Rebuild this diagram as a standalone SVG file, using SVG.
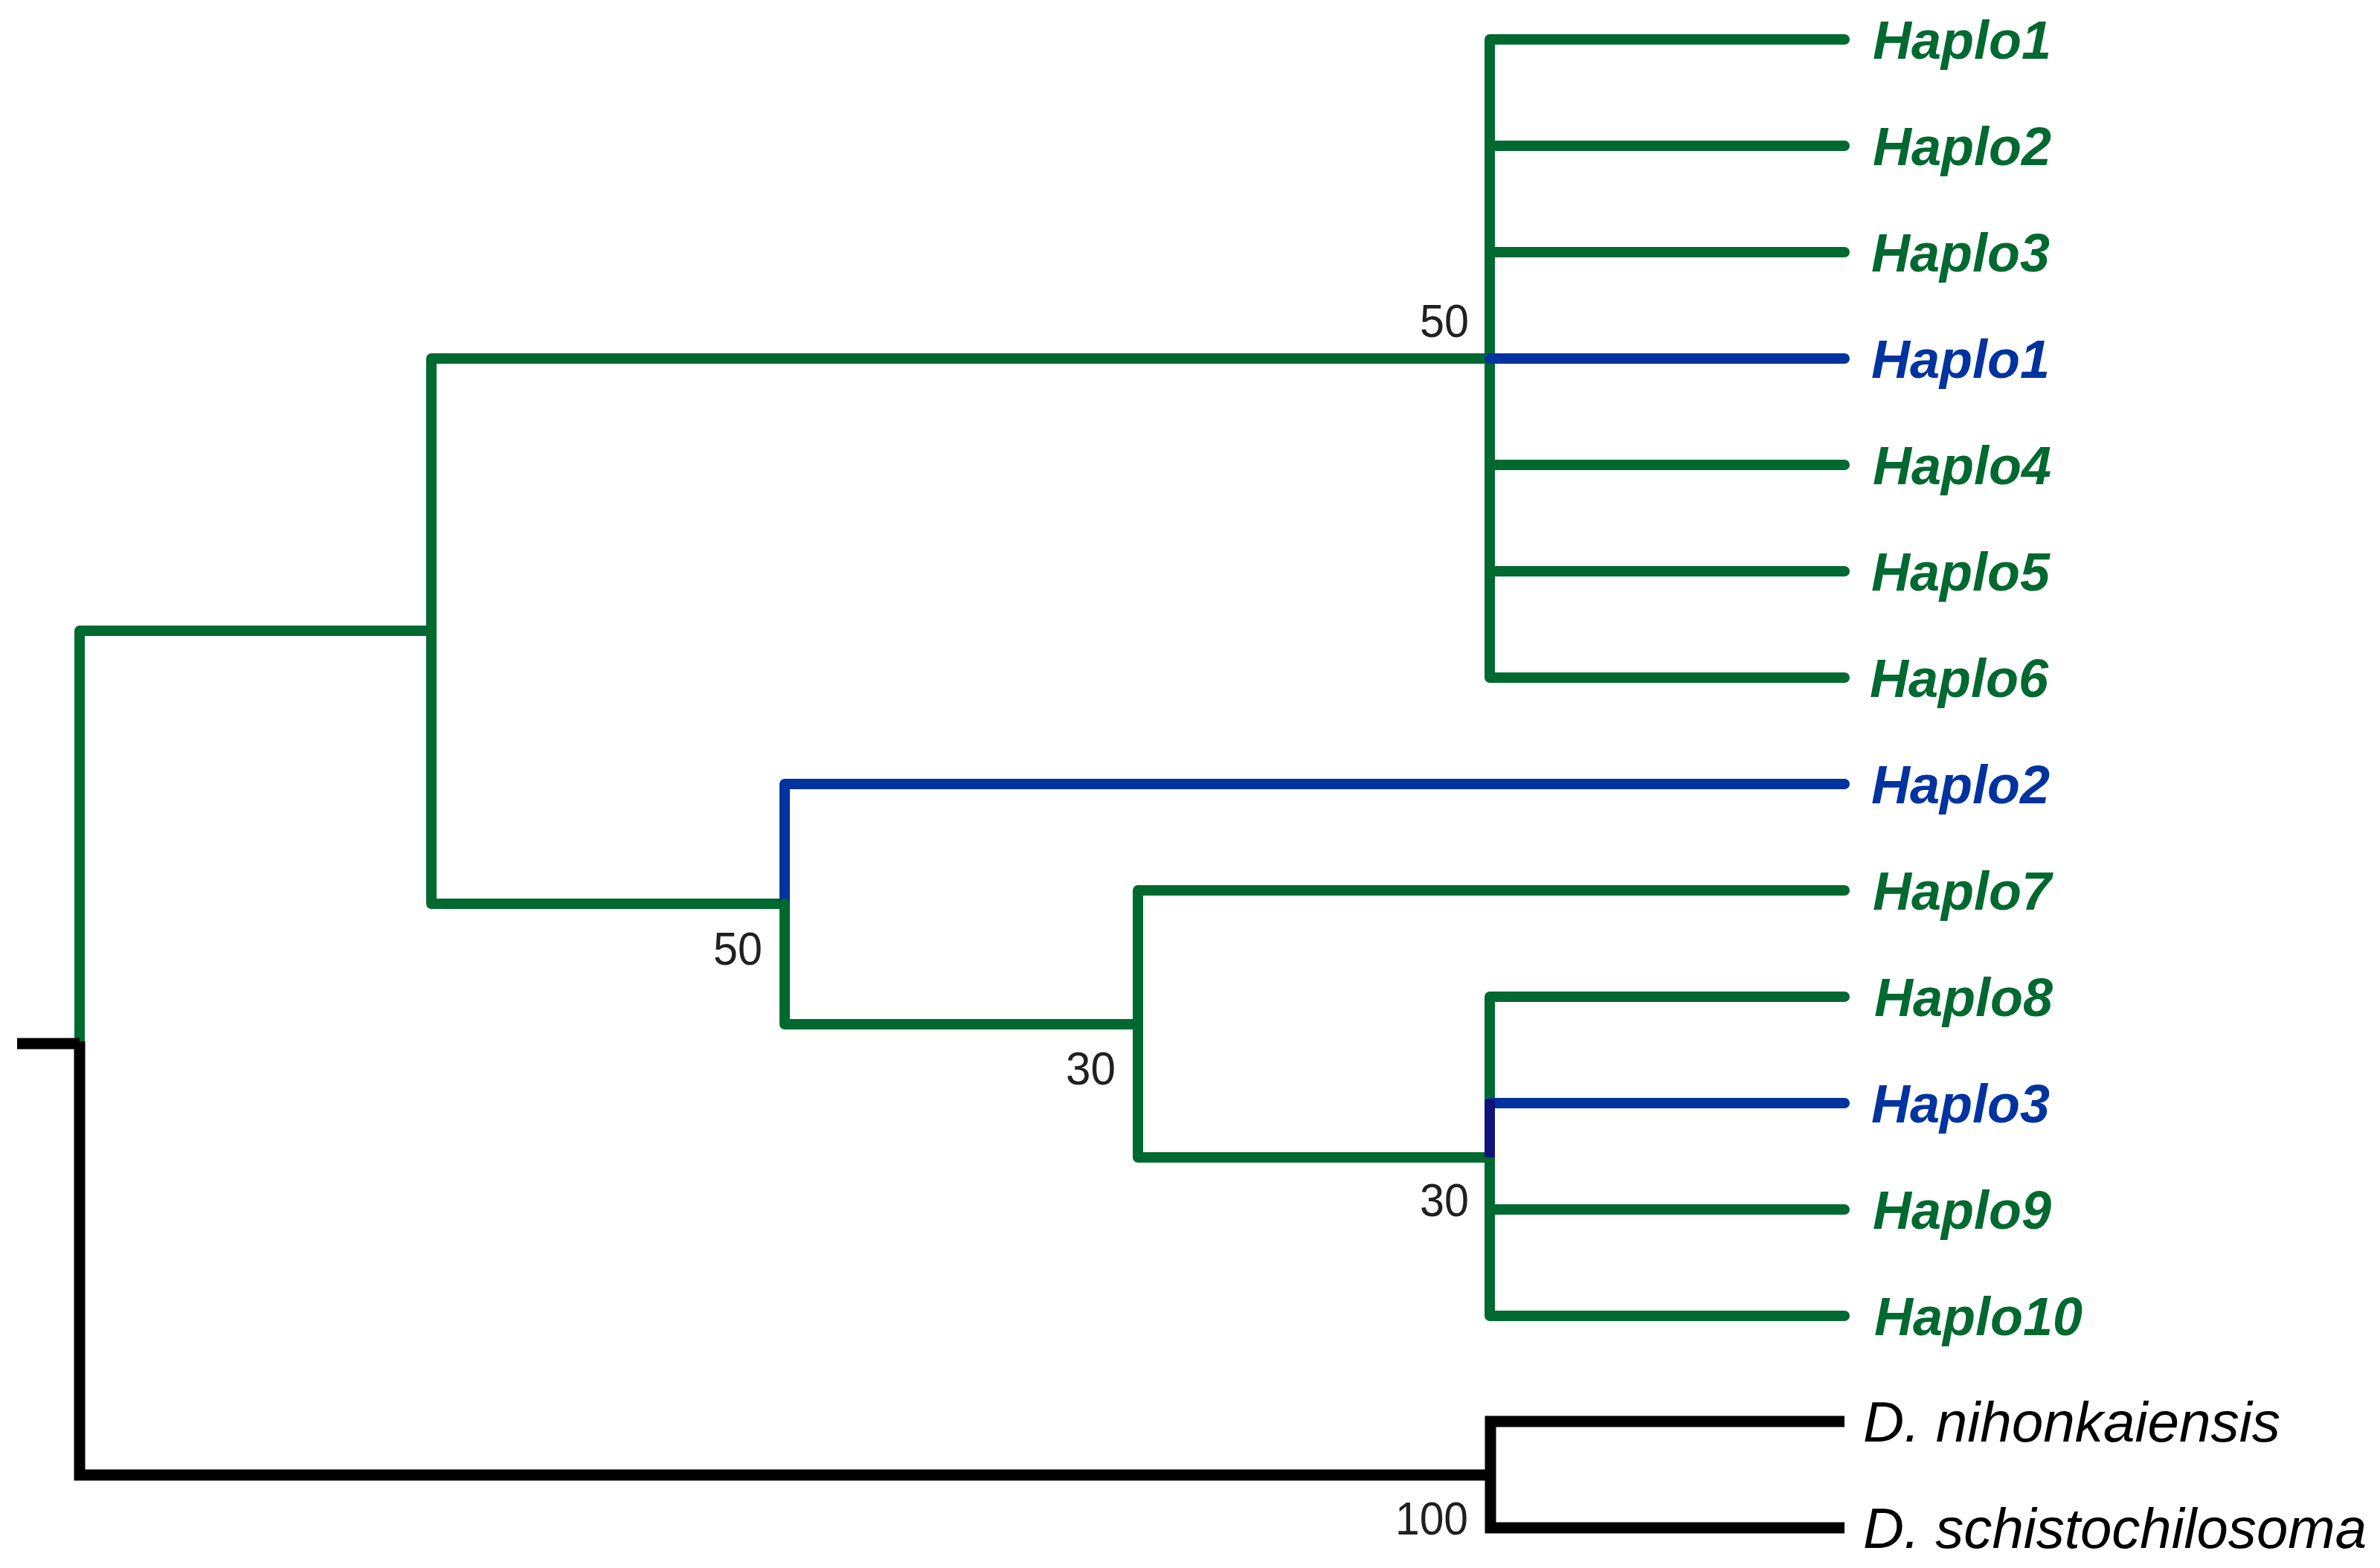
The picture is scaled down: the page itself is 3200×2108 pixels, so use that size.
<svg xmlns="http://www.w3.org/2000/svg" width="3200" height="2108" viewBox="0 0 3200 2108">
<style>
.g{fill:none;stroke:#006930;stroke-width:14;stroke-linecap:round;stroke-linejoin:round}
.b{fill:none;stroke:#0033a0;stroke-width:14;stroke-linecap:round;stroke-linejoin:round}
.n{fill:none;stroke:#12137a;stroke-width:14;stroke-linecap:butt;stroke-linejoin:round}
.k{fill:none;stroke:#000;stroke-width:15;stroke-linecap:butt;stroke-linejoin:miter}
.lg{font-family:"Liberation Sans",Arial,sans-serif;font-size:72px;font-weight:bold;font-style:italic;fill:#006930}
.lb{font-family:"Liberation Sans",Arial,sans-serif;font-size:72px;font-weight:bold;font-style:italic;fill:#0033a0}
.lo{font-family:"Liberation Sans",Arial,sans-serif;font-size:76px;font-style:italic;fill:#000}
.bs{font-family:"Liberation Sans",Arial,sans-serif;font-size:63px;fill:#231f20;text-anchor:end}
</style>
<rect width="3200" height="2108" fill="#fff"/>
<g id="connectors">
  <path class="g" d="M107 1400 V848 H580"/>
  <path class="k" d="M23 1403 H107 M107 1400 V1983 H2004"/>
  <path class="g" d="M2003 482 H580 V1215 H1055"/>
  <path class="g" d="M2480 53 H2003 V911 H2480 M2003 196 H2480 M2003 339 H2480 M2003 625 H2480 M2003 768 H2480"/>
  <path class="b" d="M2003 482 H2480"/>
  <path class="b" d="M1055 1215 V1054 H2480"/>
  <path class="g" d="M1055 1215 V1377 H1530"/>
  <path class="g" d="M2480 1197 H1530 V1556 H2003"/>
  <path class="g" d="M2480 1340 H2003 V1769 H2480 M2003 1626 H2480"/>
  <path class="b" d="M2003 1483 H2480"/>
  <path class="n" d="M2003 1478 V1556"/>
  <path class="k" d="M2480 1911 H2004 V2054 H2480"/>
</g>
<g id="leaf-Haplo1-a"><text class="lg" x="2518" y="79">Haplo1</text></g>
<g id="leaf-Haplo2-a"><text class="lg" x="2518" y="222">Haplo2</text></g>
<g id="leaf-Haplo3-a"><text class="lg" x="2516" y="365">Haplo3</text></g>
<g id="leaf-Haplo1-b"><text class="lb" x="2516" y="508">Haplo1</text></g>
<g id="leaf-Haplo4"><text class="lg" x="2518" y="651">Haplo4</text></g>
<g id="leaf-Haplo5"><text class="lg" x="2516" y="794">Haplo5</text></g>
<g id="leaf-Haplo6"><text class="lg" x="2514" y="937">Haplo6</text></g>
<g id="leaf-Haplo2-b"><text class="lb" x="2516" y="1080">Haplo2</text></g>
<g id="leaf-Haplo7"><text class="lg" x="2518" y="1223">Haplo7</text></g>
<g id="leaf-Haplo8"><text class="lg" x="2520" y="1366">Haplo8</text></g>
<g id="leaf-Haplo3-b"><text class="lb" x="2516" y="1509">Haplo3</text></g>
<g id="leaf-Haplo9"><text class="lg" x="2518" y="1652">Haplo9</text></g>
<g id="leaf-Haplo10"><text class="lg" x="2520" y="1795">Haplo10</text></g>
<g id="leaf-Dnihonkaiensis"><text class="lo" x="2505" y="1938" textLength="561" lengthAdjust="spacingAndGlyphs">D. nihonkaiensis</text></g>
<g id="leaf-Dschistochilosoma"><text class="lo" x="2505" y="2081" textLength="677" lengthAdjust="spacingAndGlyphs">D. schistochilosoma</text></g>
<g id="node-top-clade"><text class="bs" x="1975" y="453" textLength="66" lengthAdjust="spacingAndGlyphs">50</text></g>
<g id="node-B"><text class="bs" x="1025" y="1297" textLength="66" lengthAdjust="spacingAndGlyphs">50</text></g>
<g id="node-C"><text class="bs" x="1500" y="1458" textLength="67" lengthAdjust="spacingAndGlyphs">30</text></g>
<g id="node-D"><text class="bs" x="1975" y="1635" textLength="66" lengthAdjust="spacingAndGlyphs">30</text></g>
<g id="node-outgroup"><text class="bs" x="1974" y="2063" textLength="98" lengthAdjust="spacingAndGlyphs">100</text></g>
</svg>
